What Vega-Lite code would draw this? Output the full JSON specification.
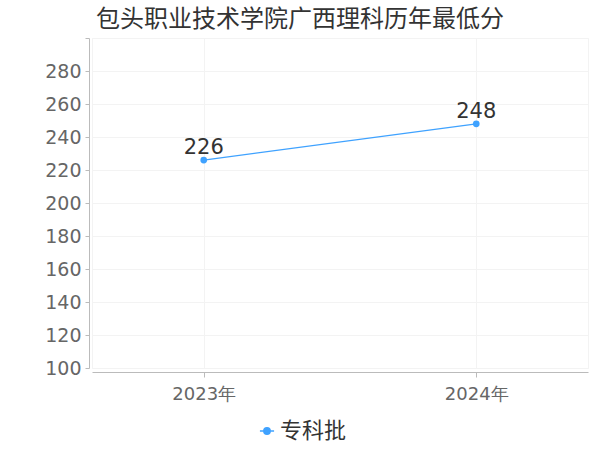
{
  "$schema": "https://vega.github.io/schema/vega-lite/v6.json",
  "autosize": {"type": "none"},
  "width": 496,
  "height": 330,
  "padding": {"left": 92, "top": 38, "right": 12, "bottom": 82},
  "background": "white",
  "title": {
    "text": "包头职业技术学院广西理科历年最低分",
    "fontSize": 24,
    "font": "Noto Sans CJK SC",
    "fontWeight": "normal",
    "color": "#333333",
    "anchor": "middle",
    "dx": -40,
    "offset": 6
  },
  "config": {
    "view": {"stroke": "#f3f3f3"},
    "font": "DejaVu Sans"
  },
  "data": {
    "values": [
      {"year": "2023年", "score": 226, "batch": "专科批"},
      {"year": "2024年", "score": 248, "batch": "专科批"}
    ]
  },
  "encoding": {
    "x": {
      "field": "year",
      "type": "ordinal",
      "scale": {"type": "point", "padding": 0.41},
      "axis": {
        "title": null,
        "labelAngle": 0,
        "labelFontSize": 18,
        "labelColor": "#666666",
        "labelFont": "DejaVu Sans",
        "labelPadding": 8,
        "domainColor": "#bbbbbb",
        "tickColor": "#bbbbbb",
        "tickSize": 5,
        "offset": 4,
        "grid": true,
        "gridColor": "#f3f3f3"
      }
    },
    "y": {
      "field": "score",
      "type": "quantitative",
      "scale": {"domain": [100, 300], "nice": false},
      "axis": {
        "title": null,
        "values": [100, 120, 140, 160, 180, 200, 220, 240, 260, 280, 300],
        "labelExpr": "datum.value == 300 ? '' : datum.label",
        "labelFontSize": 19,
        "labelColor": "#666666",
        "labelFont": "DejaVu Sans",
        "domainColor": "#bbbbbb",
        "tickColor": "#bbbbbb",
        "tickSize": 4,
        "labelPadding": 4,
        "offset": 3,
        "gridColor": "#f3f3f3"
      }
    },
    "color": {
      "field": "batch",
      "type": "nominal",
      "scale": {"range": ["#3fa2ff"]},
      "legend": {
        "title": null,
        "orient": "none",
        "legendX": 164,
        "legendY": 382,
        "labelFontSize": 22,
        "labelFont": "Noto Sans CJK SC",
        "labelColor": "#333333",
        "symbolType": "M-1,0L-0.45,0M0.45,0L1,0M-0.45,0A0.45,0.45 0 1,1 0.45,0A0.45,0.45 0 1,1 -0.45,0Z",
        "symbolSize": 200,
        "symbolStrokeWidth": 1.5,
        "symbolFillColor": "#3fa2ff",
        "symbolStrokeColor": "#3fa2ff",
        "labelOffset": 2
      }
    }
  },
  "layer": [
    {"mark": {"type": "line", "strokeWidth": 1.2}},
    {"mark": {"type": "point", "filled": true, "opacity": 1, "size": 45}},
    {
      "mark": {"type": "text", "dy": -12, "fontSize": 21, "color": "#333333", "font": "DejaVu Sans"},
      "encoding": {"text": {"field": "score", "type": "quantitative"}, "color": {"value": "#333333"}}
    }
  ]
}
